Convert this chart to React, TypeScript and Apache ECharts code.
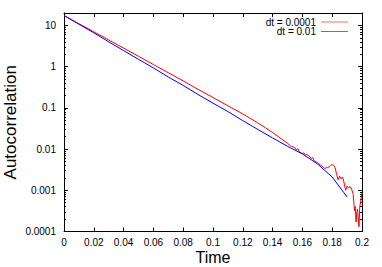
import React, { useEffect, useRef } from "react";
import * as echarts from "echarts";

// dt = 0.01 run (blue)
const blueTime = [0, 0.01, 0.02, 0.03, 0.04, 0.05, 0.06, 0.07, 0.08, 0.09, 0.1, 0.11, 0.12, 0.13, 0.14, 0.15, 0.16, 0.17, 0.18, 0.19];
const blueValue = [17.4, 10.7, 6.6, 4.0, 2.45, 1.5, 0.93, 0.56, 0.35, 0.21, 0.13, 0.081, 0.049, 0.03, 0.0186, 0.0117, 0.0076, 0.0044, 0.0021, 0.00069];

// dt = 0.0001 run (red)
const redTime = [
  0, 0.01, 0.02, 0.03, 0.04, 0.05, 0.06, 0.07, 0.08, 0.09, 0.1, 0.11, 0.12, 0.125, 0.13, 0.135, 0.14, 0.145,
  0.15, 0.152, 0.154, 0.155, 0.156, 0.157, 0.158, 0.16, 0.161, 0.162, 0.163, 0.165, 0.166, 0.167, 0.168,
  0.17, 0.171, 0.172, 0.173, 0.174, 0.175, 0.176, 0.177, 0.178, 0.179, 0.18, 0.181, 0.182, 0.183, 0.184,
  0.185, 0.186, 0.187, 0.188, 0.189, 0.19, 0.191, 0.192, 0.193, 0.194, 0.195, 0.1955, 0.196, 0.1965, 0.197,
  0.1975, 0.198, 0.1985, 0.199, 0.1995, 0.2,
];
const redValue = [
  17.4, 11.0, 7.0, 4.43, 2.81, 1.78, 1.12, 0.71, 0.45, 0.28, 0.178, 0.112, 0.071, 0.0556, 0.0432, 0.0331, 0.0251, 0.0186,
  0.0138, 0.012, 0.0112, 0.0107, 0.0095, 0.0102, 0.0085, 0.0078, 0.0081, 0.0071, 0.0074, 0.0065, 0.0059, 0.0062, 0.0051,
  0.0047, 0.0044, 0.0041, 0.0039, 0.0036, 0.0034, 0.0035, 0.0036, 0.0037, 0.004, 0.0042, 0.004, 0.0035, 0.0024, 0.0018,
  0.0022, 0.0019, 0.0021, 0.0015, 0.001, 0.00126, 0.00115, 0.00123, 0.00107, 0.00083, 0.00032, 0.0004, 0.00017, 0.00028, 0.00035,
  0.0002, 0.00013, 0.0004, 0.0005, 0.00069, 0.00085,
];

const seriesNames = ["dt = 0.0001", "dt = 0.01"];
const seriesColors = ["#ff0000", "#0000ff"];
const legendColors = ["#ff6666", "#6666ff"];

const yMajorTicks = [0.0001, 0.001, 0.01, 0.1, 1, 10];
const yMajorLabels = ["0.0001", "0.001", "0.01", "0.1", "1", "10"];
const yMinorMultipliers = [2, 3, 4, 5, 6, 7, 8, 9];
const yMin = 0.0001;
const yMax = 20;
const xMin = 0;
const xMax = 0.2;
const xInterval = 0.02;

const FONT = "Liberation Sans";

export default function App() {
  const ref = useRef<HTMLDivElement>(null);
  useEffect(() => {
    if (!ref.current) return;
    const chart = echarts.init(ref.current, null, { renderer: "svg" });
    const minorTicks: number[] = [];
    yMajorTicks.forEach((m) => {
      yMinorMultipliers.forEach((k) => {
        const v = m * k;
        if (v <= yMax) minorTicks.push(v);
      });
    });
    const fmt = (v: number) => {
      const idx = yMajorTicks.findIndex((t) => Math.abs(Math.log10(t) - Math.log10(v)) < 1e-6);
      return idx >= 0 ? yMajorLabels[idx] : "";
    };
    const line = { show: true, lineStyle: { color: "#000", width: 1 } };
    const yBase = (pos: string, major: boolean, showLine: boolean) => ({
      type: "log",
      logBase: 10,
      position: pos,
      min: yMin,
      max: yMax,
      axisLine: showLine ? line : { show: false },
      axisTick: {
        show: true,
        inside: true,
        length: major ? 4 : 2,
        lineStyle: { color: "#000", width: 1 },
        customValues: major ? yMajorTicks : minorTicks,
      },
      axisLabel: major && pos === "left"
        ? { show: true, customValues: yMajorTicks, formatter: fmt, color: "#000", fontSize: 10, fontFamily: FONT, margin: 8 }
        : { show: false },
      splitLine: { show: false },
      minorTick: { show: false },
    });
    const yLeft: any = yBase("left", true, true);
    yLeft.name = "Autocorrelation";
    yLeft.nameLocation = "middle";
    yLeft.nameGap = 45;
    yLeft.nameMoveOverlap = false;
    yLeft.nameRotate = 90;
    yLeft.nameTextStyle = { color: "#000", fontSize: 17, fontFamily: FONT, lineHeight: 17 };

    chart.setOption({
      animation: false,
      backgroundColor: "#fff",
      grid: { left: 64, right: 20, top: 13, bottom: 35.5, containLabel: false, outerBoundsMode: "none" },
      legend: [0, 1].map((i) => ({
        data: [{ name: seriesNames[i], itemStyle: { color: legendColors[i] } }],
        right: 34,
        top: i === 0 ? 17 : 26.5,
        padding: 0,
        align: "right",
        icon: "rect",
        itemWidth: 27,
        itemHeight: 1,
        textStyle: { color: "#000", fontSize: 10, fontFamily: FONT },
        selectedMode: false,
      })),
      xAxis: [
        {
          type: "value",
          position: "bottom",
          min: xMin,
          max: xMax,
          interval: xInterval,
          axisLine: line,
          axisTick: { show: true, inside: true, length: 4, lineStyle: { color: "#000", width: 1 } },
          axisLabel: { color: "#000", fontSize: 10, fontFamily: FONT, margin: 6 },
          splitLine: { show: false },
          name: "Time",
          nameLocation: "middle",
          nameGap: 18,
          nameMoveOverlap: false,
          nameTextStyle: { color: "#000", fontSize: 16, fontFamily: FONT, verticalAlign: "top", lineHeight: 16 },
        },
        {
          type: "value",
          position: "top",
          min: xMin,
          max: xMax,
          interval: xInterval,
          axisLine: line,
          axisTick: { show: true, inside: true, length: 4, lineStyle: { color: "#000", width: 1 } },
          axisLabel: { show: false },
          splitLine: { show: false },
        },
      ],
      yAxis: [
        yLeft,
        yBase("left", false, false),
        yBase("right", true, true),
        yBase("right", false, false),
      ],
      series: [
        {
          name: seriesNames[0],
          type: "line",
          xAxisIndex: 0,
          yAxisIndex: 0,
          data: redTime.map((t, i) => [t, redValue[i]]),
          showSymbol: false,
          symbol: "none",
          color: seriesColors[0],
          lineStyle: { color: seriesColors[0], width: 1 },
          itemStyle: { color: seriesColors[0] },
          z: 2,
        },
        {
          name: seriesNames[1],
          type: "line",
          xAxisIndex: 0,
          yAxisIndex: 0,
          data: blueTime.map((t, i) => [t, blueValue[i]]),
          showSymbol: false,
          symbol: "none",
          color: seriesColors[1],
          lineStyle: { color: seriesColors[1], width: 1 },
          itemStyle: { color: seriesColors[1] },
          z: 3,
        },
      ],
    });
    return () => chart.dispose();
  }, []);
  return <div ref={ref} style={{ position: "fixed", left: 0, top: 0, width: 382, height: 267 }} />;
}
